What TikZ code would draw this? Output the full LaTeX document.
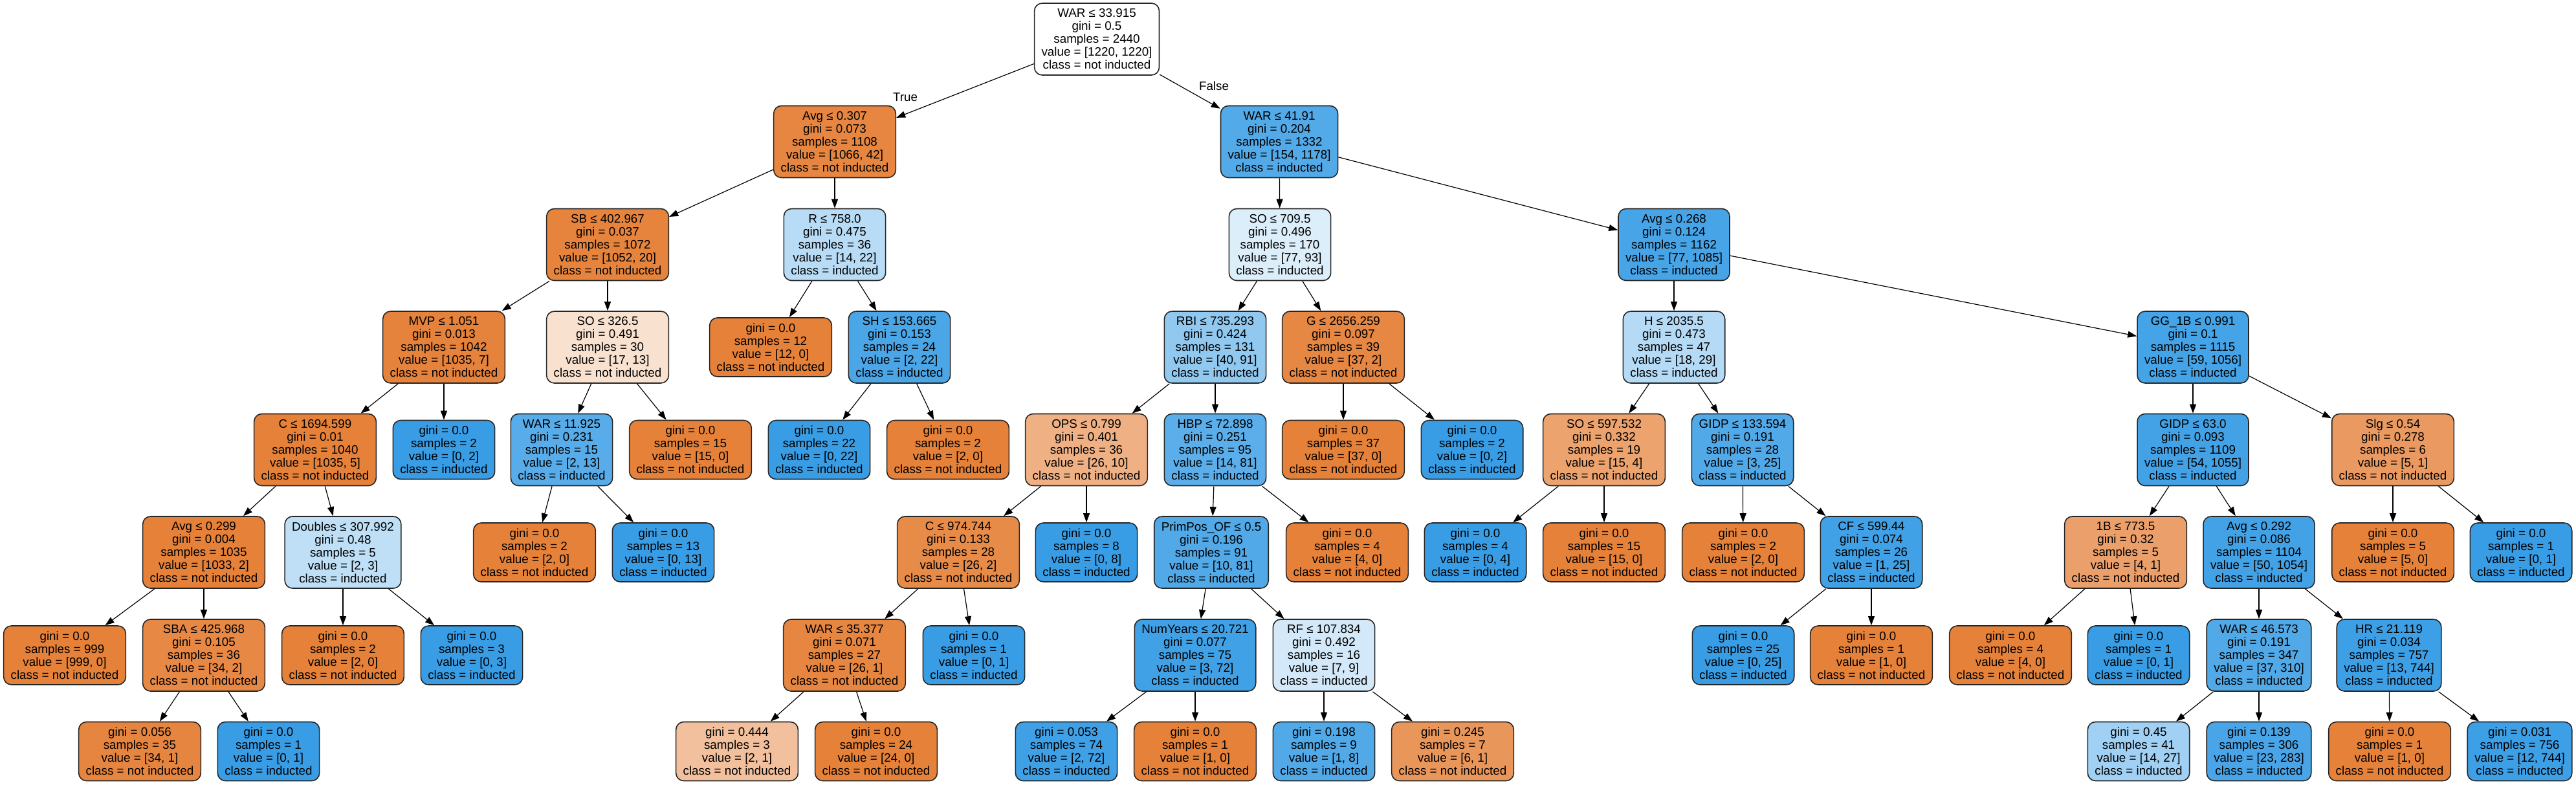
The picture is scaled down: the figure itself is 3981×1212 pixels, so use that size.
\documentclass[tikz,border=0pt]{standalone}
\usepackage{fontspec}
\setmainfont{Liberation Sans}
\usetikzlibrary{arrows.meta}
\definecolor{cnot}{RGB}{229,129,57}
\definecolor{cind}{RGB}{57,157,229}
\begin{document}
\begin{tikzpicture}[x=0.5pt, y=-0.5pt, font=\fontsize{9.4}{10}\selectfont, line join=round, >={Triangle[length=7pt,width=5pt]},
	box/.style={draw=black!85, line width=0.8pt, rounded corners=6pt, align=center, inner xsep=5.5pt, inner ysep=1pt},
	splitbox/.style={box, minimum height=55.5pt},
	leafbox/.style={box, minimum height=45.5pt},
	nf/.style={fill=cnot!#1!white},
	yf/.style={fill=cind!#1!white},
	link/.style={->, line width=0.6pt}]
	\useasboundingbox (0,0) rectangle (3981,1212);
	% rank 0 / 1 / 2
	\node[splitbox, nf=0] (n0) at (1695,60.5) {WAR ≤ 33.915\\gini = 0.5\\samples = 2440\\value = [1220, 1220]\\class = not inducted};
	\node[splitbox, nf=96] (n1) at (1290,219) {Avg ≤ 0.307\\gini = 0.073\\samples = 1108\\value = [1066, 42]\\class = not inducted};
	\node[splitbox, yf=87] (n2) at (1977,219) {WAR ≤ 41.91\\gini = 0.204\\samples = 1332\\value = [154, 1178]\\class = inducted};
	\node[splitbox, nf=98] (n3) at (939,378) {SB ≤ 402.967\\gini = 0.037\\samples = 1072\\value = [1052, 20]\\class = not inducted};
	\node[splitbox, yf=36] (n4) at (1290,378) {R ≤ 758.0\\gini = 0.475\\samples = 36\\value = [14, 22]\\class = inducted};
	\node[splitbox, yf=17] (n5) at (1978,378) {SO ≤ 709.5\\gini = 0.496\\samples = 170\\value = [77, 93]\\class = inducted};
	\node[splitbox, yf=93] (n6) at (2587,378) {Avg ≤ 0.268\\gini = 0.124\\samples = 1162\\value = [77, 1085]\\class = inducted};
	% rank 3
	\node[splitbox, nf=99] (n7) at (686,536.5) {MVP ≤ 1.051\\gini = 0.013\\samples = 1042\\value = [1035, 7]\\class = not inducted};
	\node[splitbox, nf=24] (n8) at (939,536.5) {SO ≤ 326.5\\gini = 0.491\\samples = 30\\value = [17, 13]\\class = not inducted};
	\node[leafbox, nf=100] (n9) at (1191,536.5) {gini = 0.0\\samples = 12\\value = [12, 0]\\class = not inducted};
	\node[splitbox, yf=91] (n10) at (1390,536.5) {SH ≤ 153.665\\gini = 0.153\\samples = 24\\value = [2, 22]\\class = inducted};
	\node[splitbox, yf=56] (n11) at (1878,536.5) {RBI ≤ 735.293\\gini = 0.424\\samples = 131\\value = [40, 91]\\class = inducted};
	\node[splitbox, nf=95] (n12) at (2076,536.5) {G ≤ 2656.259\\gini = 0.097\\samples = 39\\value = [37, 2]\\class = not inducted};
	\node[splitbox, yf=38] (n13) at (2587,536.5) {H ≤ 2035.5\\gini = 0.473\\samples = 47\\value = [18, 29]\\class = inducted};
	\node[splitbox, yf=94] (n14) at (3389,536.5) {GG\_1B ≤ 0.991\\gini = 0.1\\samples = 1115\\value = [59, 1056]\\class = inducted};
	% rank 4
	\node[splitbox, nf=100] (n15) at (487,695) {C ≤ 1694.599\\gini = 0.01\\samples = 1040\\value = [1035, 5]\\class = not inducted};
	\node[leafbox, yf=100] (n16) at (686,695) {gini = 0.0\\samples = 2\\value = [0, 2]\\class = inducted};
	\node[splitbox, yf=85] (n17) at (868,695) {WAR ≤ 11.925\\gini = 0.231\\samples = 15\\value = [2, 13]\\class = inducted};
	\node[leafbox, nf=100] (n18) at (1067,695) {gini = 0.0\\samples = 15\\value = [15, 0]\\class = not inducted};
	\node[leafbox, yf=100] (n19) at (1266,695) {gini = 0.0\\samples = 22\\value = [0, 22]\\class = inducted};
	\node[leafbox, nf=100] (n20) at (1465,695) {gini = 0.0\\samples = 2\\value = [2, 0]\\class = not inducted};
	\node[splitbox, nf=62] (n21) at (1679,695) {OPS ≤ 0.799\\gini = 0.401\\samples = 36\\value = [26, 10]\\class = not inducted};
	\node[splitbox, yf=83] (n22) at (1878,695) {HBP ≤ 72.898\\gini = 0.251\\samples = 95\\value = [14, 81]\\class = inducted};
	\node[leafbox, nf=100] (n23) at (2076,695) {gini = 0.0\\samples = 37\\value = [37, 0]\\class = not inducted};
	\node[leafbox, yf=100] (n24) at (2275,695) {gini = 0.0\\samples = 2\\value = [0, 2]\\class = inducted};
	\node[splitbox, nf=73] (n25) at (2479,695) {SO ≤ 597.532\\gini = 0.332\\samples = 19\\value = [15, 4]\\class = not inducted};
	\node[splitbox, yf=88] (n26) at (2693,695) {GIDP ≤ 133.594\\gini = 0.191\\samples = 28\\value = [3, 25]\\class = inducted};
	\node[splitbox, yf=95] (n27) at (3389,695) {GIDP ≤ 63.0\\gini = 0.093\\samples = 1109\\value = [54, 1055]\\class = inducted};
	\node[splitbox, nf=80] (n28) at (3698,695) {Slg ≤ 0.54\\gini = 0.278\\samples = 6\\value = [5, 1]\\class = not inducted};
	% rank 5
	\node[splitbox, nf=100] (n29) at (315,853.5) {Avg ≤ 0.299\\gini = 0.004\\samples = 1035\\value = [1033, 2]\\class = not inducted};
	\node[splitbox, yf=33] (n30) at (530,853.5) {Doubles ≤ 307.992\\gini = 0.48\\samples = 5\\value = [2, 3]\\class = inducted};
	\node[leafbox, nf=100] (n31) at (826,853.5) {gini = 0.0\\samples = 2\\value = [2, 0]\\class = not inducted};
	\node[leafbox, yf=100] (n32) at (1025,853.5) {gini = 0.0\\samples = 13\\value = [0, 13]\\class = inducted};
	\node[splitbox, nf=92] (n33) at (1481,853.5) {C ≤ 974.744\\gini = 0.133\\samples = 28\\value = [26, 2]\\class = not inducted};
	\node[leafbox, yf=100] (n34) at (1679,853.5) {gini = 0.0\\samples = 8\\value = [0, 8]\\class = inducted};
	\node[splitbox, yf=88] (n35) at (1872,853.5) {PrimPos\_OF ≤ 0.5\\gini = 0.196\\samples = 91\\value = [10, 81]\\class = inducted};
	\node[leafbox, nf=100] (n36) at (2082,853.5) {gini = 0.0\\samples = 4\\value = [4, 0]\\class = not inducted};
	\node[leafbox, yf=100] (n37) at (2280,853.5) {gini = 0.0\\samples = 4\\value = [0, 4]\\class = inducted};
	\node[leafbox, nf=100] (n38) at (2479,853.5) {gini = 0.0\\samples = 15\\value = [15, 0]\\class = not inducted};
	\node[leafbox, nf=100] (n39) at (2694,853.5) {gini = 0.0\\samples = 2\\value = [2, 0]\\class = not inducted};
	\node[splitbox, yf=96] (n40) at (2892,853.5) {CF ≤ 599.44\\gini = 0.074\\samples = 26\\value = [1, 25]\\class = inducted};
	\node[splitbox, nf=75] (n41) at (3285,853.5) {1B ≤ 773.5\\gini = 0.32\\samples = 5\\value = [4, 1]\\class = not inducted};
	\node[splitbox, yf=95] (n42) at (3491,853.5) {Avg ≤ 0.292\\gini = 0.086\\samples = 1104\\value = [50, 1054]\\class = inducted};
	\node[leafbox, nf=100] (n43) at (3698,853.5) {gini = 0.0\\samples = 5\\value = [5, 0]\\class = not inducted};
	\node[leafbox, yf=100] (n44) at (3896,853.5) {gini = 0.0\\samples = 1\\value = [0, 1]\\class = inducted};
	% rank 6
	\node[leafbox, nf=100] (n45) at (100,1012.5) {gini = 0.0\\samples = 999\\value = [999, 0]\\class = not inducted};
	\node[splitbox, nf=94] (n46) at (315,1012.5) {SBA ≤ 425.968\\gini = 0.105\\samples = 36\\value = [34, 2]\\class = not inducted};
	\node[leafbox, nf=100] (n47) at (530,1012.5) {gini = 0.0\\samples = 2\\value = [2, 0]\\class = not inducted};
	\node[leafbox, yf=100] (n48) at (729,1012.5) {gini = 0.0\\samples = 3\\value = [0, 3]\\class = inducted};
	\node[splitbox, nf=96] (n49) at (1305,1012.5) {WAR ≤ 35.377\\gini = 0.071\\samples = 27\\value = [26, 1]\\class = not inducted};
	\node[leafbox, yf=100] (n50) at (1505,1012.5) {gini = 0.0\\samples = 1\\value = [0, 1]\\class = inducted};
	\node[splitbox, yf=96] (n51) at (1847,1012.5) {NumYears ≤ 20.721\\gini = 0.077\\samples = 75\\value = [3, 72]\\class = inducted};
	\node[splitbox, yf=22] (n52) at (2046,1012.5) {RF ≤ 107.834\\gini = 0.492\\samples = 16\\value = [7, 9]\\class = inducted};
	\node[leafbox, yf=100] (n53) at (2694,1012.5) {gini = 0.0\\samples = 25\\value = [0, 25]\\class = inducted};
	\node[leafbox, nf=100] (n54) at (2892,1012.5) {gini = 0.0\\samples = 1\\value = [1, 0]\\class = not inducted};
	\node[leafbox, nf=100] (n55) at (3107,1012.5) {gini = 0.0\\samples = 4\\value = [4, 0]\\class = not inducted};
	\node[leafbox, yf=100] (n56) at (3305,1012.5) {gini = 0.0\\samples = 1\\value = [0, 1]\\class = inducted};
	\node[splitbox, yf=88] (n57) at (3491,1012.5) {WAR ≤ 46.573\\gini = 0.191\\samples = 347\\value = [37, 310]\\class = inducted};
	\node[splitbox, yf=98] (n58) at (3692,1012.5) {HR ≤ 21.119\\gini = 0.034\\samples = 757\\value = [13, 744]\\class = inducted};
	% rank 7
	\node[leafbox, nf=97] (n59) at (216,1161) {gini = 0.056\\samples = 35\\value = [34, 1]\\class = not inducted};
	\node[leafbox, yf=100] (n60) at (415,1161) {gini = 0.0\\samples = 1\\value = [0, 1]\\class = inducted};
	\node[leafbox, nf=50] (n61) at (1139,1161) {gini = 0.444\\samples = 3\\value = [2, 1]\\class = not inducted};
	\node[leafbox, nf=100] (n62) at (1354,1161) {gini = 0.0\\samples = 24\\value = [24, 0]\\class = not inducted};
	\node[leafbox, yf=97] (n63) at (1648,1161) {gini = 0.053\\samples = 74\\value = [2, 72]\\class = inducted};
	\node[leafbox, nf=100] (n64) at (1847,1161) {gini = 0.0\\samples = 1\\value = [1, 0]\\class = not inducted};
	\node[leafbox, yf=88] (n65) at (2046,1161) {gini = 0.198\\samples = 9\\value = [1, 8]\\class = inducted};
	\node[leafbox, nf=83] (n66) at (2245,1161) {gini = 0.245\\samples = 7\\value = [6, 1]\\class = not inducted};
	\node[leafbox, yf=48] (n67) at (3305,1161) {gini = 0.45\\samples = 41\\value = [14, 27]\\class = inducted};
	\node[leafbox, yf=92] (n68) at (3491,1161) {gini = 0.139\\samples = 306\\value = [23, 283]\\class = inducted};
	\node[leafbox, nf=100] (n69) at (3693,1161) {gini = 0.0\\samples = 1\\value = [1, 0]\\class = not inducted};
	\node[leafbox, yf=98] (n70) at (3894,1161) {gini = 0.031\\samples = 756\\value = [12, 744]\\class = inducted};
	% branches
	\foreach \a/\b in {n0/n1,n0/n2,n1/n3,n1/n4,n2/n5,n2/n6,n3/n7,n3/n8,n4/n9,n4/n10,n5/n11,n5/n12,n6/n13,n6/n14,
		n7/n15,n7/n16,n8/n17,n8/n18,n10/n19,n10/n20,n11/n21,n11/n22,n12/n23,n12/n24,n13/n25,n13/n26,n14/n27,n14/n28,
		n15/n29,n15/n30,n17/n31,n17/n32,n21/n33,n21/n34,n22/n35,n22/n36,n25/n37,n25/n38,n26/n39,n26/n40,n27/n41,n27/n42,n28/n43,n28/n44,
		n29/n45,n29/n46,n30/n47,n30/n48,n33/n49,n33/n50,n35/n51,n35/n52,n40/n53,n40/n54,n41/n55,n41/n56,n42/n57,n42/n58,
		n46/n59,n46/n60,n49/n61,n49/n62,n51/n63,n51/n64,n52/n65,n52/n66,n57/n67,n57/n68,n58/n69,n58/n70}
	\draw[link] (\a) -- (\b);
	\node (tl) at (1399,150) {True};
	\node (fl) at (1876,133) {False};
\end{tikzpicture}
\end{document}
